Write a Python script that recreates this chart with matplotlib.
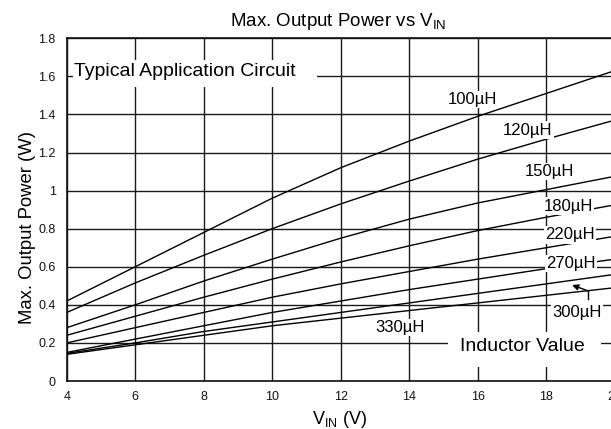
import matplotlib
matplotlib.use("Agg")
import matplotlib.pyplot as plt
from matplotlib.patches import Rectangle
import numpy as np

plt.rcParams['font.family'] = ['Liberation Sans', 'DejaVu Sans']
plt.rcParams['mathtext.fontset'] = 'custom'
plt.rcParams['mathtext.rm'] = 'Liberation Sans'
plt.rcParams['mathtext.it'] = 'Liberation Sans:italic'

# ---- data ----
vin = [4, 6, 8, 10, 12, 14, 16, 18, 20]
p_100 = [0.42, 0.60, 0.78, 0.96, 1.12, 1.26, 1.39, 1.51, 1.63]
p_120 = [0.36, 0.515, 0.66, 0.80, 0.93, 1.05, 1.165, 1.27, 1.37]
p_150 = [0.28, 0.40, 0.525, 0.64, 0.75, 0.85, 0.935, 1.005, 1.075]
p_180 = [0.24, 0.34, 0.44, 0.535, 0.625, 0.71, 0.79, 0.86, 0.925]
p_220 = [0.20, 0.28, 0.36, 0.44, 0.51, 0.575, 0.64, 0.70, 0.76]
p_270 = [0.15, 0.22, 0.29, 0.36, 0.42, 0.48, 0.535, 0.59, 0.64]
p_300 = [0.145, 0.20, 0.26, 0.31, 0.36, 0.41, 0.46, 0.51, 0.56]
p_330 = [0.14, 0.19, 0.24, 0.29, 0.33, 0.37, 0.41, 0.45, 0.49]
series = [p_100, p_120, p_150, p_180, p_220, p_270, p_300, p_330]

x_ticks = [4, 6, 8, 10, 12, 14, 16, 18, 20]
y_ticks = [0, 0.2, 0.4, 0.6, 0.8, 1.0, 1.2, 1.4, 1.6, 1.8]
y_ticklabels = ['0', '0.2', '0.4', '0.6', '0.8', '1', '1.2', '1.4', '1.6', '1.8']

W, H = 611, 429
fig = plt.figure(figsize=(W / 100, H / 100), dpi=100)
ax = fig.add_axes([66.7 / W, (H - 381) / H, (614.6 - 66.7) / W, (381 - 38.3) / H])
ax.set_xlim(4, 20)
ax.set_ylim(0, 1.8)
ax.set_xticks(x_ticks)
ax.set_yticks(y_ticks)
ax.set_yticklabels(y_ticklabels)
ax.tick_params(length=0, labelsize=9, colors='#111111')
ax.tick_params(axis='x', pad=7)
ax.tick_params(axis='y', pad=8)
ax.grid(True, color='#1a1a1a', lw=1.0, zorder=1)
ax.set_axisbelow(True)
for s in ax.spines.values():
    s.set_color('#111111')
    s.set_linewidth(1.2)

for p in series:
    ax.plot(vin, p, color='black', lw=1.0, zorder=3)

# white boxes interrupting gridlines
ax.add_patch(Rectangle((4.18, 1.544), 11.31 - 4.18, 1.686 - 1.544, fc='white', ec='none', zorder=2))
ax.add_patch(Rectangle((15.14, 0.075), 19.61 - 15.14, 0.255 - 0.075, fc='white', ec='none', zorder=2))

ax.text(4.2, 1.60, 'Typical Application Circuit', fontsize=14, ha='left', va='baseline', zorder=4)
ax.text(17.30, 0.179, 'Inductor Value', fontsize=14, ha='center', va='center', zorder=4)

lbl_kw = dict(fontsize=12, ha='center', va='center', zorder=4,
              bbox=dict(fc='white', ec='none', pad=1.0))
ax.text(15.84, 1.478, '100µH', **lbl_kw)
ax.text(17.47, 1.318, '120µH', **lbl_kw)
ax.text(18.09, 1.100, '150µH', **lbl_kw)
ax.text(18.64, 0.919, '180µH', **lbl_kw)
ax.text(18.70, 0.767, '220µH', **lbl_kw)
ax.text(18.73, 0.617, '270µH', **lbl_kw)
ax.text(18.90, 0.360, '300µH', **lbl_kw)
ax.text(13.73, 0.281, '330µH', **lbl_kw)

# leader for 300uH
ax.plot([19.23, 19.23], [0.431, 0.473], color='black', lw=1.0, zorder=4)
ax.annotate('', xy=(18.76, 0.504), xytext=(19.23, 0.473),
            arrowprops=dict(arrowstyle='-|>', color='black', lw=1.0,
                            mutation_scale=9, shrinkA=0, shrinkB=0), zorder=4)

fig.text(338 / W, (H - 26) / H, 'Max. Output Power vs V$_{\\mathrm{IN}}$', fontsize=13.5,
         ha='center', va='baseline')
fig.text(340 / W, 5 / H, 'V$_{\\mathrm{IN}}$ (V)', fontsize=13, ha='center', va='baseline')
fig.text(32 / W, (H - 227) / H, 'Max. Output Power (W)', fontsize=13.3, rotation=90,
         rotation_mode='anchor', ha='center', va='baseline')

fig.savefig('out.png', dpi=100)
